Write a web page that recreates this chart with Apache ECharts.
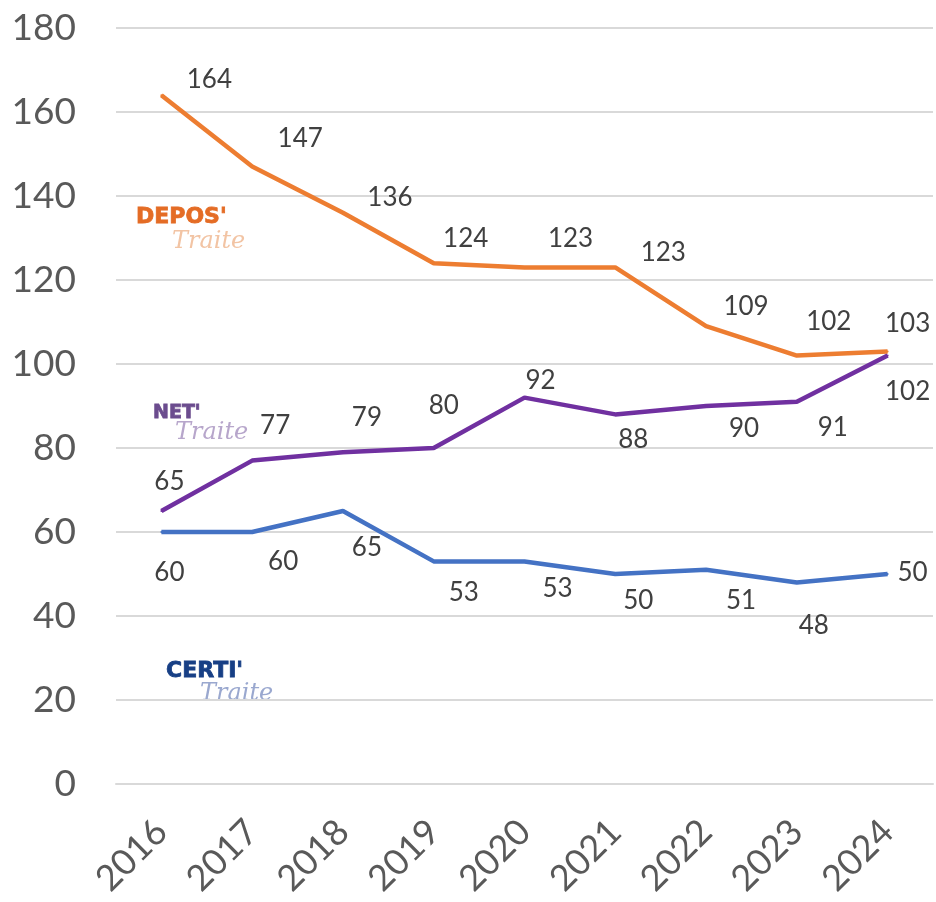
<!DOCTYPE html>
<html>
<head>
<meta charset="utf-8">
<script src="https://cdn.jsdelivr.net/npm/echarts@6/dist/echarts.min.js"></script>
<style>
  html, body { margin: 0; padding: 0; background: #fff; }
  #chart { width: 936px; height: 902px; }
</style>
</head>
<body>
<div id="chart"></div>
<script>
const years = ['2016', '2017', '2018', '2019', '2020', '2021', '2022', '2023', '2024'];
const depos = [164, 147, 136, 124, 123, 123, 109, 102, 103];
const net = [65, 77, 79, 80, 92, 88, 90, 91, 102];
const certi = [60, 60, 65, 53, 53, 50, 51, 48, 50];

const FONT = 'Lato, "Open Sans", sans-serif';

// label nudges (px from the point), placed by hand like the original
const deposNudge = [[48, -16], [48, -28], [47, -15], [32, -25], [46, -29], [48, -15], [40, -20], [32, -34], [20, -28]];
const netNudge = [[8, -29], [23, -35], [24, -35], [10, -42], [16, -17], [18, 25], [38, 23], [36, 26], [20, 36]];
const certiNudge = [[8, 41], [31, 30], [24, 37], [30, 31], [33, 27], [23, 27], [35, 31], [17, 43], [25, -1]];

const withLabels = (values, nudge) =>
  values.map((v, i) => ({ value: v, label: { offset: nudge[i] } }));

const makeSeries = (name, color, values, nudge) => ({
  name,
  type: 'line',
  symbol: 'circle',
  symbolSize: 2,
  itemStyle: { color },
  lineStyle: { color, width: 4.5 },
  label: {
    show: true,
    position: 'inside',
    align: 'center',
    verticalAlign: 'middle',
    color: '#404040',
    fontFamily: FONT,
    fontSize: 26
  },
  emphasis: { disabled: true },
  data: withLabels(values, nudge)
});

// stand-in for the product logos: bold name + light italic "Traite"
const logo = (x, y, word, size, wordColor, scriptColor, scriptDx, scriptDy) => ({
  type: 'group',
  x,
  y,
  z: 5,
  children: [
    { type: 'rect', shape: { x: -6, y: -4, width: 120, height: 56 }, style: { fill: '#fff' } },
    {
      type: 'text',
      x: 0,
      y: 0,
      style: {
        text: word,
        fill: wordColor,
        stroke: wordColor,
        lineWidth: 0.8,
        font: 'bold ' + size + 'px "DejaVu Sans", sans-serif'
      }
    },
    {
      type: 'text',
      x: scriptDx,
      y: scriptDy,
      style: { text: 'Traite', fill: scriptColor, font: 'italic 24px "DejaVu Serif", serif' }
    }
  ]
});

const chart = echarts.init(document.getElementById('chart'));

chart.setOption({
  animation: false,
  grid: { left: 116, right: 3, top: 28, bottom: 118 },
  xAxis: {
    type: 'category',
    data: years,
    axisLine: { lineStyle: { color: '#D9D9D9', width: 2 } },
    axisTick: { show: false },
    axisLabel: {
      rotate: 45,
      margin: 42,
      color: '#595959',
      fontFamily: FONT,
      fontSize: 36
    }
  },
  yAxis: {
    type: 'value',
    min: 0,
    max: 180,
    interval: 20,
    axisLine: { show: false },
    axisTick: { show: false },
    splitLine: { lineStyle: { color: '#D9D9D9', width: 2 } },
    axisLabel: {
      margin: 40,
      color: '#595959',
      fontFamily: FONT,
      fontSize: 37
    }
  },
  graphic: [
    logo(136, 206, "DEPOS'", 22, '#E46C25', '#F2C4A4', 36, 24),
    logo(153, 404, "NET'", 19, '#6B4C8E', '#B7A6CB', 22, 17),
    logo(166, 660, "CERTI'", 22, '#173F85', '#9AA8CF', 34, 22)
  ],
  series: [
    makeSeries("DEPOS'Traite", '#ED7D31', depos, deposNudge),
    makeSeries("NET'Traite", '#7030A0', net, netNudge),
    makeSeries("CERTI'Traite", '#4472C4', certi, certiNudge)
  ]
});
</script>
</body>
</html>
